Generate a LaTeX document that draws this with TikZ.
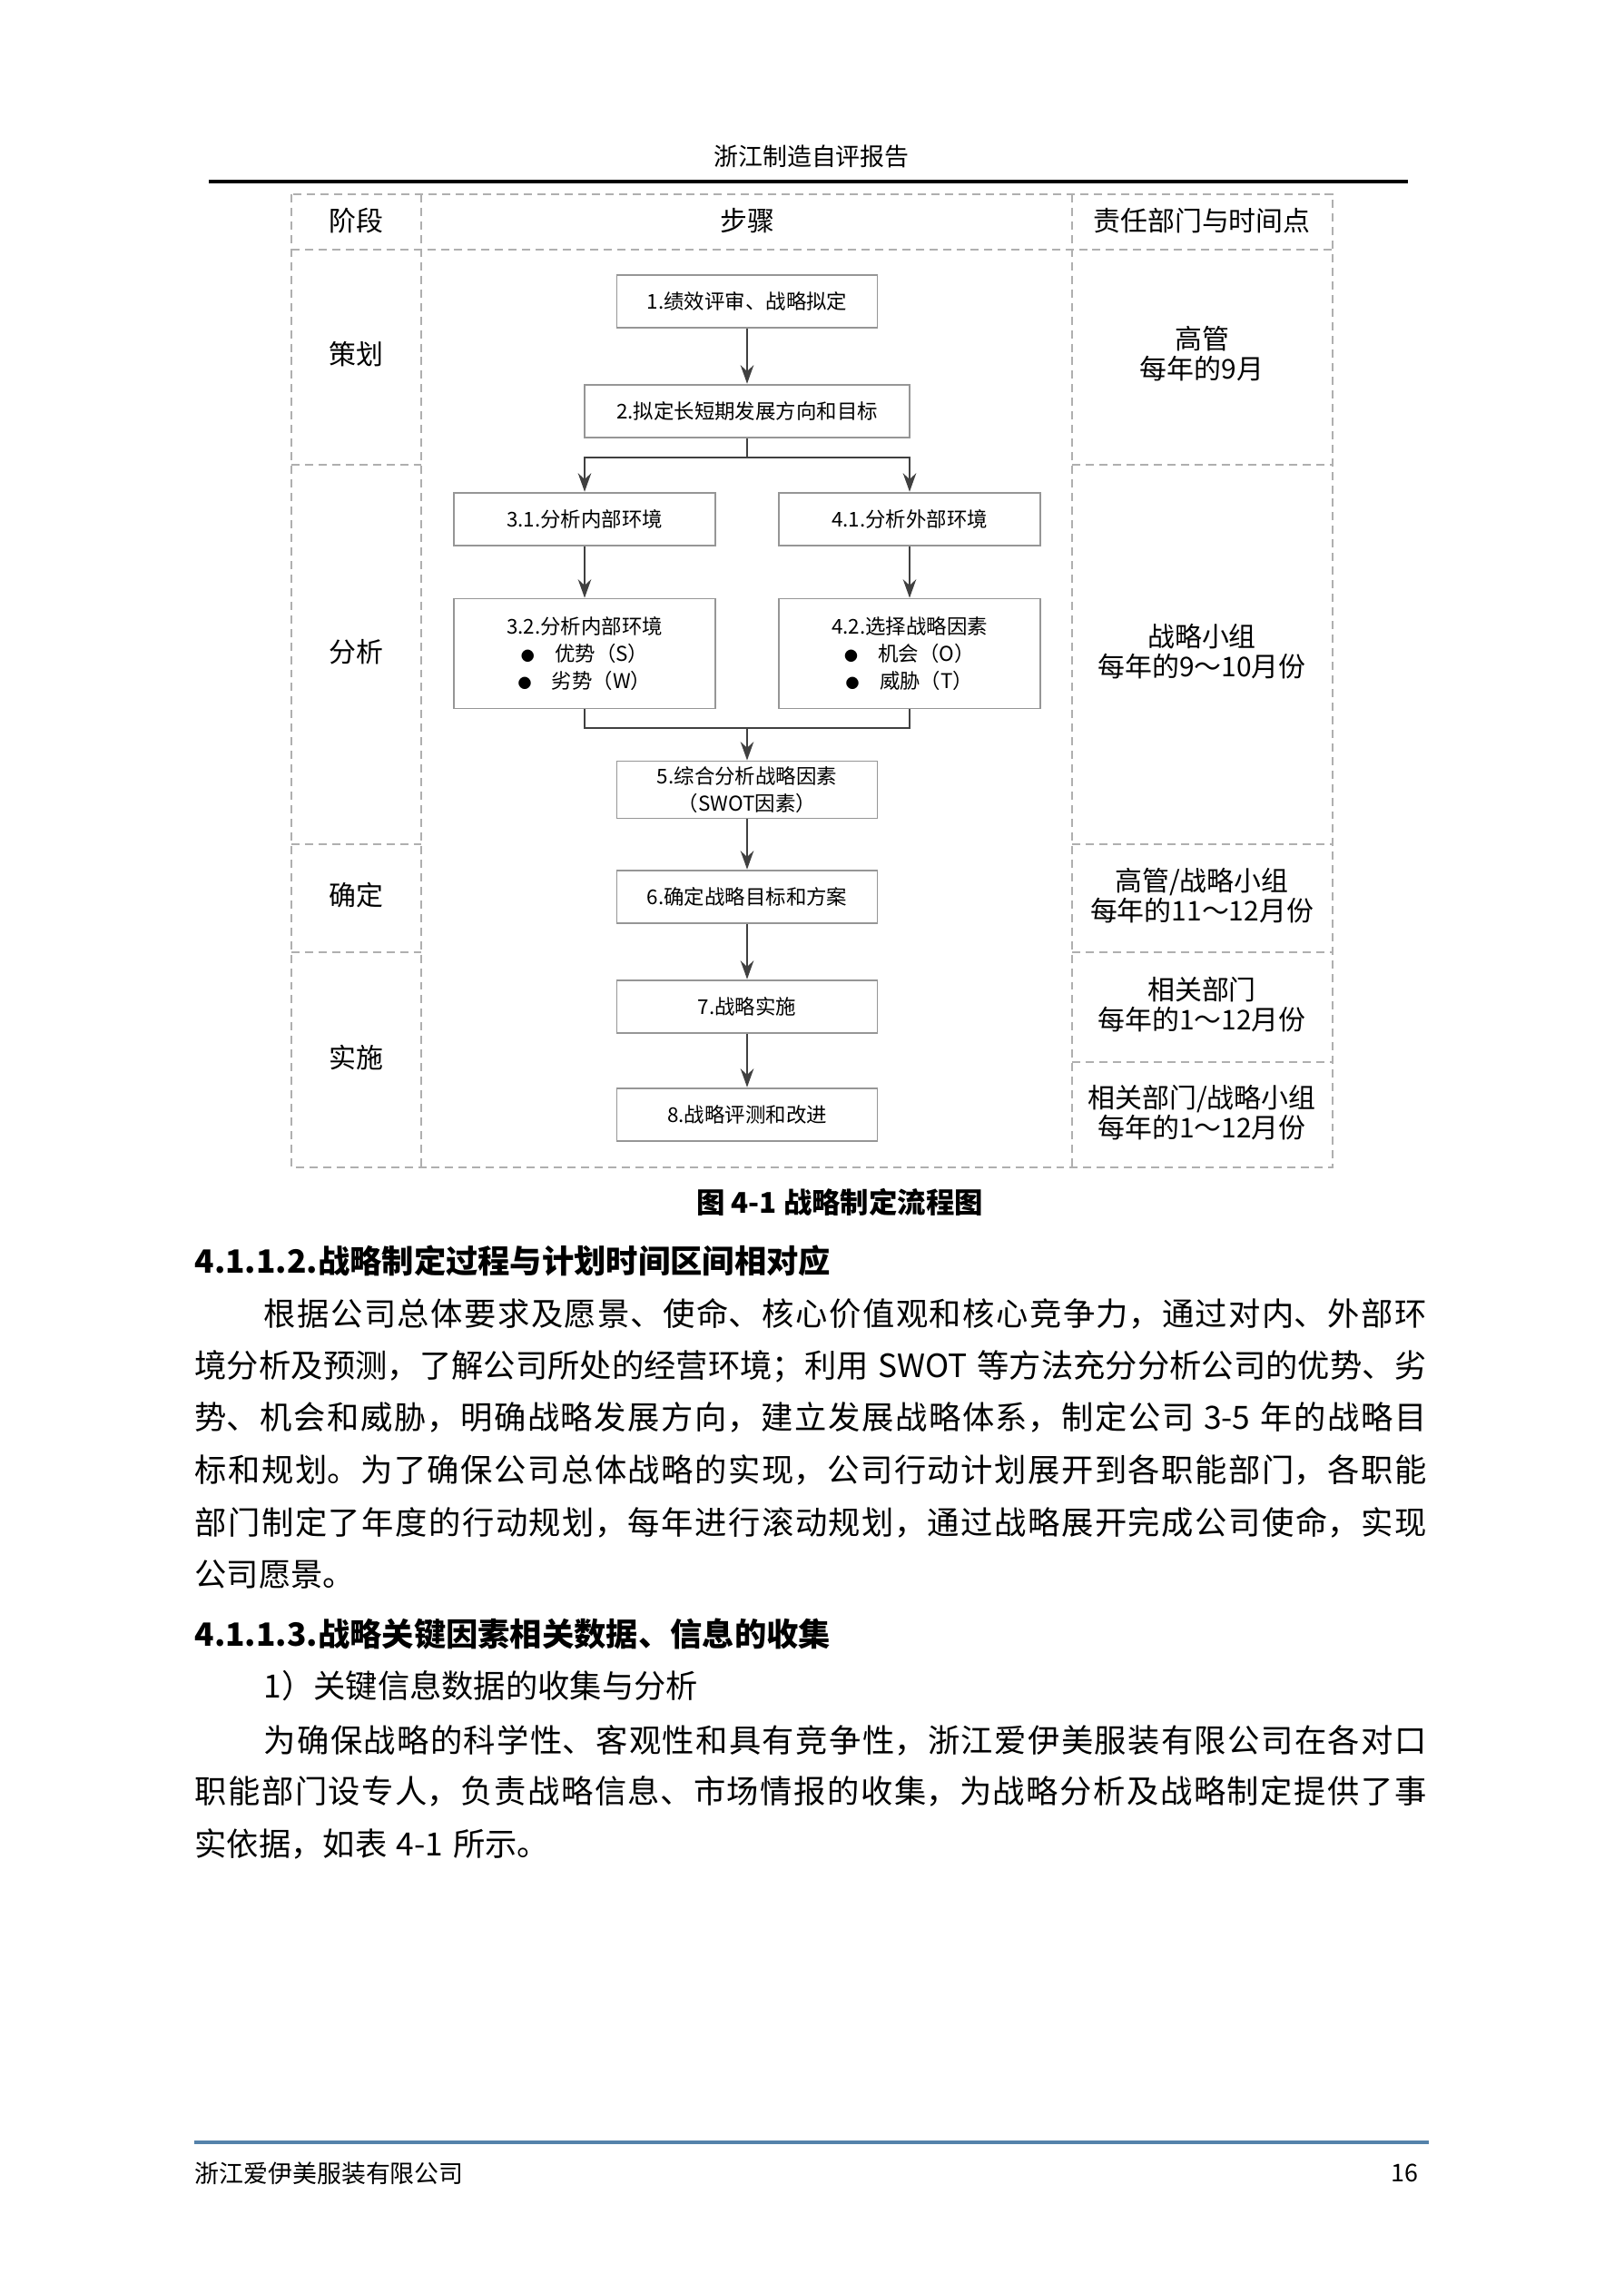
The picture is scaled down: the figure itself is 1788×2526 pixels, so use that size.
\documentclass[tikz,border=0pt]{standalone}
\usepackage{fontspec}
\setmainfont{Noto Sans CJK SC}
\usepackage{tikz}
\usetikzlibrary{positioning, arrows.meta}
\XeTeXlinebreaklocale "zh"
\XeTeXlinebreakskip=0pt plus 1pt
\definecolor{gridgray}{RGB}{175,175,175}
\definecolor{boxgray}{RGB}{150,150,150}
\definecolor{arrowgray}{RGB}{64,64,64}
\definecolor{footblue}{RGB}{84,130,170}
\newcommand{\fullline}[2]{\parbox{#1}{\XeTeXlinebreakskip=0pt plus 4pt\parfillskip=0pt\noindent #2}}
\newcommand{\gap}{\hspace{0.3em}}
\newcommand{\dotmark}{{\fontsize{5}{6}\selectfont ●}}

\begin{document}
\begin{tikzpicture}[
    x=0.011745cm, y=-0.011745cm,
    grid/.style={draw=gridgray, dash pattern=on 3pt off 2pt, line width=0.5pt},
    stepbox/.style={
      draw=boxgray, line width=0.6pt, fill=white, align=center,
      minimum width=3.37cm, minimum height=0.69cm, inner sep=2pt,
      font=\fontsize{7.5}{10}\selectfont
    },
    cell/.style={align=center, font=\fontsize{10}{11}\selectfont, inner sep=0pt},
    body/.style={anchor=west, inner sep=0pt, font=\fontsize{11.8}{14}\selectfont},
    head/.style={anchor=west, inner sep=0pt, font=\fontsize{11.8}{14}\selectfont\bfseries},
    arr/.style={-{Stealth[length=2.4mm, width=1.7mm]}, line width=0.8pt, arrowgray},
    link/.style={line width=0.8pt, arrowgray},
  ]
    \useasboundingbox (0,0) rectangle (1788,2526);

    \node[font=\fontsize{9}{11}\selectfont, inner sep=0pt] (title) at (894,172) {浙江制造自评报告};
    \draw[line width=1.4pt] (230,200) -- (1551,200);

    \draw[grid] (321,214) rectangle (1468,1286);
    \draw[grid] (321,275) -- (1468,275);
    \draw[grid] (464,214) -- (464,1286);
    \draw[grid] (1181,214) -- (1181,1286);
    \foreach \y in {512, 930, 1049} {
      \draw[grid] (321,\y) -- (464,\y);
      \draw[grid] (1181,\y) -- (1468,\y);
    }
    \draw[grid] (1181,1170) -- (1468,1170);

    \node[cell] (stagehead) at (392,243) {阶段};
    \node[cell] (stephead) at (823,243) {步骤};
    \node[cell] (dutyhead) at (1324,243) {责任部门与时间点};

    \node[cell] (plan) at (392,390) {策划};
    \node[cell] (analyse) at (392,718) {分析};
    \node[cell] (decide) at (392,986) {确定};
    \node[cell] (execute) at (392,1165) {实施};

    \node[cell] (duty1) at (1324,390) {高管\\每年的9月};
    \node[cell] (duty2) at (1324,718) {战略小组\\每年的9～10月份};
    \node[cell] (duty3) at (1324,987) {高管/战略小组\\每年的11～12月份};
    \node[cell] (duty4) at (1324,1107) {相关部门\\每年的1～12月份};
    \node[cell] (duty5) at (1324,1226) {相关部门/战略小组\\每年的1～12月份};

    \node[stepbox] (s1) at (823,332) {1.绩效评审、战略拟定};
    \node[stepbox, minimum width=4.2cm] (s2) at (823,453) {2.拟定长短期发展方向和目标};
    \node[stepbox, minimum width=3.39cm] (s31) at (644,572) {3.1.分析内部环境};
    \node[stepbox, minimum width=3.39cm] (s41) at (1002,572) {4.1.分析外部环境};
    \node[stepbox, minimum width=3.39cm, minimum height=1.42cm] (s32) at (644,720)
      {3.2.分析内部环境\\\dotmark\quad 优势（S）\\\dotmark\quad 劣势（W）};
    \node[stepbox, minimum width=3.39cm, minimum height=1.42cm] (s42) at (1002,720)
      {4.2.选择战略因素\\\dotmark\quad 机会（O）\\\dotmark\quad 威胁（T）};
    \node[stepbox] (s5) at (823,870) {5.综合分析战略因素\\（SWOT因素）};
    \node[stepbox] (s6) at (823,988) {6.确定战略目标和方案};
    \node[stepbox] (s7) at (823,1109) {7.战略实施};
    \node[stepbox] (s8) at (823,1228) {8.战略评测和改进};

    \coordinate (split) at (823,504);
    \coordinate (merge) at (823,802);
    \draw[arr] (s1) -- (s2);
    \draw[link] (s2) -- (split);
    \draw[arr] (split) -| (s31);
    \draw[arr] (split) -| (s41);
    \draw[arr] (s31) -- (s32);
    \draw[arr] (s41) -- (s42);
    \draw[link] (s32) |- (merge);
    \draw[link] (s42) |- (merge);
    \draw[arr] (merge) -- (s5);
    \draw[arr] (s5) -- (s6);
    \draw[arr] (s6) -- (s7);
    \draw[arr] (s7) -- (s8);

    \node[font=\fontsize{10.5}{12}\selectfont\bfseries, inner sep=0pt] (caption) at (925,1324) {图 4-1 战略制定流程图};

    \node[head] (sec2) at (214,1389) {4.1.1.2.战略制定过程与计划时间区间相对应};
    \node[body] (p1a) at (290,1447) {\fullline{15.05cm}{根据公司总体要求及愿景、使命、核心价值观和核心竞争力，通过对内、外部环}};
    \node[body] (p1b) at (214,1505) {\fullline{15.94cm}{境分析及预测，了解公司所处的经营环境；利用\gap SWOT\gap 等方法充分分析公司的优势、劣}};
    \node[body] (p1c) at (214,1561) {\fullline{15.94cm}{势、机会和威胁，明确战略发展方向，建立发展战略体系，制定公司\gap 3-5\gap 年的战略目}};
    \node[body] (p1d) at (214,1619) {\fullline{15.94cm}{标和规划。为了确保公司总体战略的实现，公司行动计划展开到各职能部门，各职能}};
    \node[body] (p1e) at (214,1677) {\fullline{15.94cm}{部门制定了年度的行动规划，每年进行滚动规划，通过战略展开完成公司使命，实现}};
    \node[body] (p1f) at (214,1735) {公司愿景。};

    \node[head] (sec3) at (214,1800) {4.1.1.3.战略关键因素相关数据、信息的收集};
    \node[body] (item1) at (290,1857) {1）关键信息数据的收集与分析};
    \node[body] (p2a) at (290,1917) {\fullline{15.05cm}{为确保战略的科学性、客观性和具有竞争性，浙江爱伊美服装有限公司在各对口}};
    \node[body] (p2b) at (214,1973) {\fullline{15.94cm}{职能部门设专人，负责战略信息、市场情报的收集，为战略分析及战略制定提供了事}};
    \node[body] (p2c) at (214,2031) {实依据，如表\gap 4-1\gap 所示。};

    \draw[footblue, line width=1.3pt] (214,2360) -- (1574,2360);
    \node[anchor=west, inner sep=0pt, font=\fontsize{9}{11}\selectfont] (company) at (214,2394) {浙江爱伊美服装有限公司};
    \node[anchor=east, inner sep=0pt, font=\fontsize{9}{11}\selectfont] (page) at (1563,2394) {16};
  \end{tikzpicture}
\end{document}
